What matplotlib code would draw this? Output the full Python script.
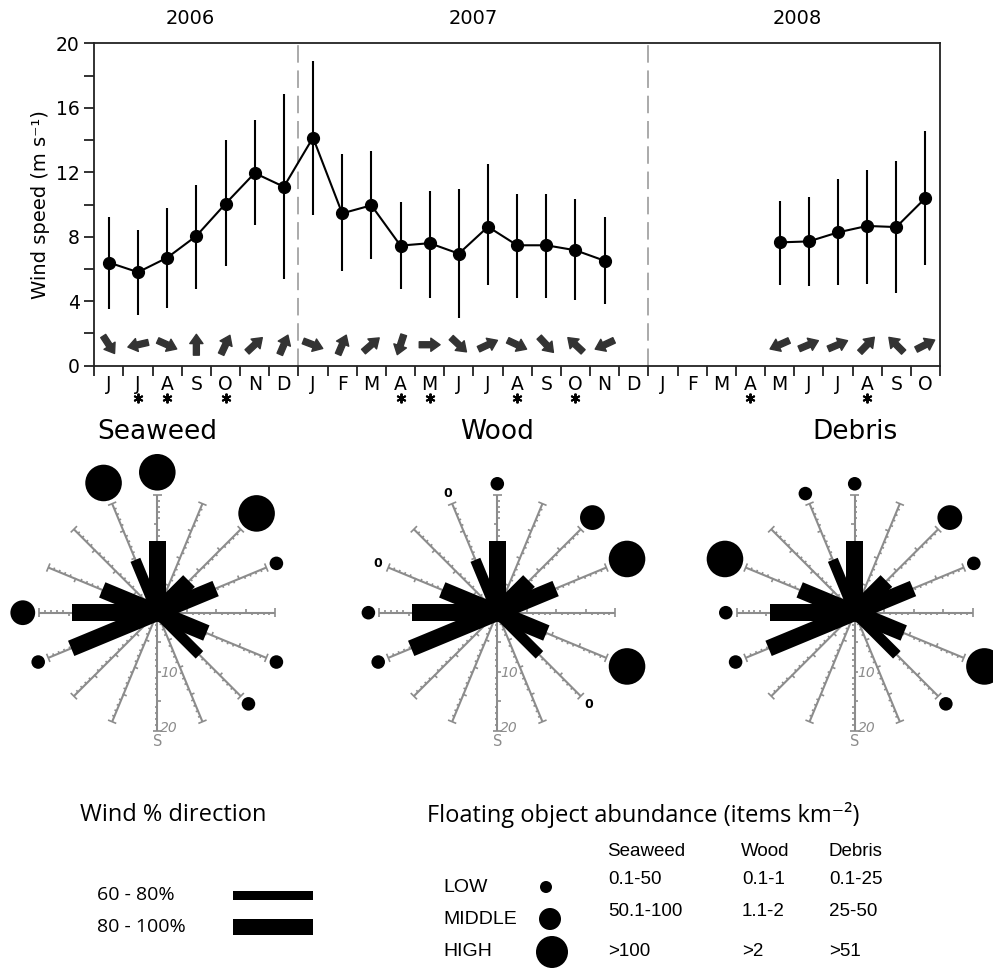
import numpy as np
import matplotlib.pyplot as plt
from matplotlib import transforms as mtransforms
from matplotlib.collections import LineCollection
from matplotlib.patches import Rectangle, Circle

plt.rcParams['font.family'] = 'DejaVu Sans'

# ---- monthly wind speed (Jun 2006 - Oct 2008) ----
MONTHS = ['J', 'J', 'A', 'S', 'O', 'N', 'D',
          'J', 'F', 'M', 'A', 'M', 'J', 'J', 'A', 'S', 'O', 'N', 'D',
          'J', 'F', 'M', 'A', 'M', 'J', 'J', 'A', 'S', 'O']
YEARS = ['2006', '2007', '2008']
YEAR_CENTERS = [3.3, 13.0, 24.1]
YEAR_BREAKS = [7, 19]

SPEED_MEAN = [6.4, 5.8, 6.7, 8.05, 10.05, 11.95, 11.1,
              14.15, 9.45, 9.95, 7.45, 7.6, 6.95, 8.62, 7.47, 7.47, 7.16, 6.51, None,
              None, None, None, None, 7.65, 7.71, 8.27, 8.67, 8.6, 10.4]
SPEED_LOW = [3.5, 3.14, 3.56, 4.76, 6.2, 8.75, 5.36,
             9.35, 5.87, 6.6, 4.78, 4.22, 2.98, 5.0, 4.22, 4.22, 4.05, 3.8, None,
             None, None, None, None, 5.0, 4.96, 5.0, 5.09, 4.53, 6.23]
SPEED_HIGH = [9.25, 8.42, 9.8, 11.21, 14.0, 15.24, 16.86,
              18.92, 13.13, 13.32, 10.13, 10.82, 10.98, 12.49, 10.63, 10.63, 10.32, 9.2, None,
              None, None, None, None, 10.24, 10.44, 11.58, 12.14, 12.7, 14.54]
# direction the wind blows to (degrees, counter-clockwise from east)
WIND_TO_DEG = [-57, -167, -24, 90, 65, 43, 67,
               -21, 67, 41, -108, 0, -43, 25, -25, -47, 137, 205, None,
               None, None, None, None, 204, 23, 23, 46, 135, 27]
STAR_MONTHS = [1, 2, 4, 10, 11, 14, 16, 22, 26]

# ---- wind rose (% of wind per direction) ----
ROSE_DIRS = ['N', 'NNE', 'NE', 'ENE', 'E', 'ESE', 'SE', 'SSE',
             'S', 'SSW', 'SW', 'WSW', 'W', 'WNW', 'NW', 'NNW']
ROSE_PCT = [12.2, 0, 7.6, 10.7, 0, 9.0, 10.1, 0,
            0, 0, 0, 15.8, 14.4, 10.1, 0, 9.7]
ROSE_BAND = ['80-100', None, '80-100', '80-100', None, '80-100', '60-80', None,
             None, None, None, '80-100', '80-100', '80-100', None, '60-80']

# ---- floating object abundance per direction (0 = none found, 1 low, 2 middle, 3 high) ----
MATERIALS = ['Seaweed', 'Wood', 'Debris']
SEAWEED_LEVEL = [3, None, 3, 1, None, 1, 1, None, None, None, None, 1, 2, None, None, 3]
WOOD_LEVEL = [1, None, 2, 3, None, 3, 0, None, None, None, None, 1, 1, 0, None, 0]
DEBRIS_LEVEL = [1, None, 2, 1, None, 3, 1, None, None, None, None, 1, 1, 3, None, 1]

LEVEL_NAMES = ['LOW', 'MIDDLE', 'HIGH']
SEAWEED_RANGES = ['0.1-50', '50.1-100', '>100']
WOOD_RANGES = ['0.1-1', '1.1-2', '>2']
DEBRIS_RANGES = ['0.1-25', '25-50', '>51']
BAND_LABELS = ['60 - 80%', '80 - 100%']
BAND_KEYS = ['60-80', '80-100']

W, H = 993, 969
GRAY = '#8c8c8c'
LEVEL_RADIUS = {1: 1.15, 2: 2.1, 3: 3.1}
BAND_WIDTH = {'60-80': 1.8, '80-100': 2.8}
LEGEND_BAND_PX = {'60-80': 9, '80-100': 16}
SPOKE_LEN = 20
ROSE_SCALE = 5.9  # pixels per % unit


def px_rect(x0, y0, x1, y1):
    return [x0 / W, 1 - y1 / H, (x1 - x0) / W, (y1 - y0) / H]


fig = plt.figure(figsize=(W / 100, H / 100), dpi=100)

# ================= top: wind speed =================
ax = fig.add_axes(px_rect(94.3, 43.3, 940, 365.7))
x = np.arange(len(MONTHS)) + 0.5
mean = np.array(SPEED_MEAN, dtype=float)
low = np.array(SPEED_LOW, dtype=float)
high = np.array(SPEED_HIGH, dtype=float)
ok = ~np.isnan(mean)

for b in YEAR_BREAKS:
    ax.axvline(b, color='#aaaaaa', lw=1.4, ls=(0, (9, 4)), zorder=1)
ax.vlines(x[ok], low[ok], high[ok], color='k', lw=1.5, zorder=2)
ax.plot(x, mean, color='k', lw=1.5, marker='o', ms=8.5, zorder=3)

ARROW_Y = 1.3
ARROW_LEN = 15
for xi, d in zip(x, WIND_TO_DEG):
    if d is None:
        continue
    dx = ARROW_LEN / 2 * np.cos(np.deg2rad(d))
    dy = ARROW_LEN / 2 * np.sin(np.deg2rad(d))
    head = mtransforms.offset_copy(ax.transData, fig=fig, x=dx, y=dy, units='points')
    tail = mtransforms.offset_copy(ax.transData, fig=fig, x=-dx, y=-dy, units='points')
    ax.annotate('', xy=(xi, ARROW_Y), xycoords=head, xytext=(xi, ARROW_Y), textcoords=tail,
                arrowprops=dict(arrowstyle='simple,head_length=0.7,head_width=1.0,tail_width=0.45',
                                mutation_scale=9.5, fc='#333333', ec='#333333',
                                shrinkA=0, shrinkB=0))

ax.set_xlim(0, len(MONTHS))
ax.set_ylim(0, 20)
ax.set_yticks([0, 4, 8, 12, 16, 20])
ax.set_yticks([2, 6, 10, 14, 18], minor=True)
ax.set_xticks(np.arange(len(MONTHS) + 1))
ax.set_xticklabels([])
ax.set_xticks(x, minor=True)
ax.set_xticklabels(MONTHS, minor=True)
ax.tick_params(axis='y', which='both', length=7, width=1.3, direction='out',
               labelsize=13.5, color='#222222')
ax.tick_params(axis='x', which='major', length=7, width=1.3, direction='out', color='#222222')
ax.tick_params(axis='x', which='minor', length=0, pad=7, labelsize=13.5)
for sp in ax.spines.values():
    sp.set_linewidth(1.3)
    sp.set_color('#222222')
ax.set_ylabel('Wind speed (m s⁻¹)', fontsize=14)

xt = ax.get_xaxis_transform()
ax.plot(x[STAR_MONTHS], np.full(len(STAR_MONTHS), -0.1), transform=xt, ls='none',
        marker=(6, 2, 0), ms=7, mew=1.4, color='k', clip_on=False)
for yr, xc in zip(YEARS, YEAR_CENTERS):
    ax.text(xc, 1.078, yr, transform=xt, ha='center', va='center', fontsize=14)

# ================= middle: wind roses =================
ROSE_CENTERS = [(157.3, 612.7), (497.3, 612.7), (854.7, 612.7)]
LEVELS = [SEAWEED_LEVEL, WOOD_LEVEL, DEBRIS_LEVEL]
HALF = 28


def draw_rose(rax, title, level):
    angles = np.arange(len(ROSE_DIRS)) * 22.5
    for k, ang in enumerate(angles):
        th = np.deg2rad(90 - ang)
        ux, uy = np.cos(th), np.sin(th)
        px, py = -uy, ux
        rax.plot([0, SPOKE_LEN * ux], [0, SPOKE_LEN * uy], color=GRAY, lw=1.5,
                 solid_capstyle='butt', zorder=1)
        segs = []
        for r in range(1, SPOKE_LEN + 1):
            if r == SPOKE_LEN:
                a, b = -0.75, 0.75
            elif r % 5 == 0:
                a, b = -0.15, 0.6
            else:
                a, b = -0.4, 0.0
            segs.append([(r * ux + a * px, r * uy + a * py), (r * ux + b * px, r * uy + b * py)])
        rax.add_collection(LineCollection(segs, colors=GRAY, linewidths=1.2, zorder=1))

        if ROSE_PCT[k] > 0:
            w = BAND_WIDTH[ROSE_BAND[k]]
            rax.add_patch(Rectangle((0, -w / 2), ROSE_PCT[k], w, angle=90 - ang,
                                    rotation_point=(0, 0), fc='k', ec='none', zorder=2))

        lv = level[k]
        if lv is None:
            continue
        if lv == 0:
            d = 21.9
            rax.text(d * ux, d * uy, '0', ha='center', va='center', fontsize=9,
                     fontweight='bold', zorder=3)
        else:
            rad = LEVEL_RADIUS[lv]
            d = 20.7 + rad
            rax.add_patch(Circle((d * ux, d * uy), rad, fc='k', ec='none', zorder=3,
                                 clip_on=False))

    rax.text(0.5, -10.2, '10', color=GRAY, fontsize=10, style='italic', ha='left', va='center')
    rax.text(0.5, -19.6, '20', color=GRAY, fontsize=10, style='italic', ha='left', va='center')
    rax.text(0, -21.9, 'S', color=GRAY, fontsize=10.5, ha='center', va='center')
    rax.text(0, 30.6, title, ha='center', va='center', fontsize=19)


for name, lev, (cx, cy) in zip(MATERIALS, LEVELS, ROSE_CENTERS):
    hp = HALF * ROSE_SCALE
    rax = fig.add_axes(px_rect(cx - hp, cy - hp, cx + hp, cy + hp))
    rax.set_xlim(-HALF, HALF)
    rax.set_ylim(-HALF, HALF)
    rax.axis('off')
    draw_rose(rax, name, lev)

# ================= bottom: legends =================
lax = fig.add_axes([0, 0, 1, 1])
lax.set_xlim(0, W)
lax.set_ylim(H, 0)
lax.axis('off')

HEAD_FONT = ['Open Sans', 'DejaVu Sans']
TABLE_FONT = ['Liberation Sans', 'DejaVu Sans']

lax.text(80, 815, 'Wind % direction', family=HEAD_FONT, fontsize=17, va='center')
for lbl, key, yy in zip(BAND_LABELS, BAND_KEYS, [895, 927]):
    lax.text(97, yy, lbl, family=HEAD_FONT, fontsize=14, va='center')
    hgt = LEGEND_BAND_PX[key]
    lax.add_patch(Rectangle((233, yy - hgt / 2), 80, hgt, fc='k', ec='none'))

lax.text(427, 815, 'Floating object abundance (items km⁻²)', family=HEAD_FONT,
         fontsize=17, va='center')
col_x = [608, 742, 829]
for name, cxx in zip(MATERIALS, col_x):
    lax.text(cxx - 1, 851, name, family=TABLE_FONT, fontsize=13.5, va='center')
row_y = [887, 919, 952]
legend_r = [6, 11, 16]
legend_cx = [546, 550, 552]
for lvl, yy, rr, ccx in zip(LEVEL_NAMES, row_y, legend_r, legend_cx):
    lax.text(443, yy, lvl, family=TABLE_FONT, fontsize=14, va='center')
    lax.add_patch(Circle((ccx, yy), rr, fc='k', ec='none'))
for ranges, cxx in zip([SEAWEED_RANGES, WOOD_RANGES, DEBRIS_RANGES], col_x):
    for txt, yy in zip(ranges, [880, 912, 952]):
        lax.text(cxx, yy, txt, family=TABLE_FONT, fontsize=13.5, va='center')

fig.savefig('out.png', dpi=100)
